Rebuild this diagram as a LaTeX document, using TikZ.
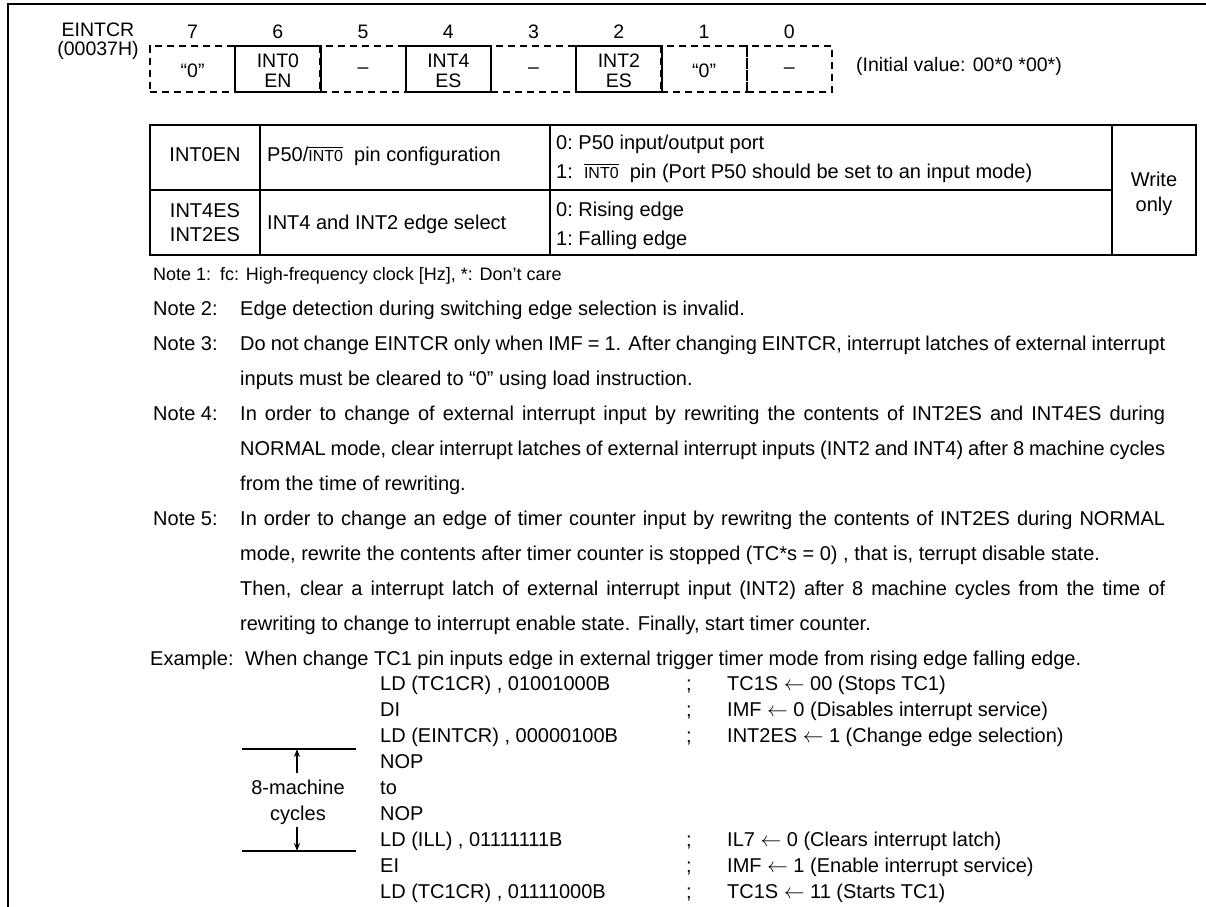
\documentclass[tikz,border=0pt]{standalone}
\usepackage{fontspec}
\setmainfont{Liberation Sans}
\usetikzlibrary{arrows.meta}
\newcommand\ovline[1]{\vbox{\hrule height 1.2pt\kern1.4pt\hbox{#1}}}
\newcommand\jline[1]{\makebox[925pt][s]{#1}}
\newcommand\intsmall{\fontsize{16}{16}\selectfont INT0}
\newcommand\larr{$\leftarrow$}
\begin{document}
\begin{tikzpicture}[x=1pt,y=-1pt,
  every node/.style={font=\fontsize{20}{20}\selectfont, inner sep=0pt},
  regfont/.style={font=\fontsize{19.5}{20}\selectfont},
  notesmall/.style={font=\fontsize{18}{20}\selectfont},
  txt/.style={anchor=base west},
  ctxt/.style={anchor=base},
  cellbase/.style={minimum width=85.25pt, minimum height=46pt, align=center, line width=2pt},
  dcell/.style={cellbase, draw, dash pattern=on 7pt off 5pt},
  scell/.style={cellbase, draw, solid},
  frame/.style={line width=2pt},
  tbl/.style={line width=2pt},
  brk/.style={line width=1.5pt},
  arr/.style={line width=1.3pt, -{Stealth[length=8pt,width=6pt]}}]
\useasboundingbox (0,0) rectangle (1206,906);
% frame
\draw[frame] (8,910) -- (8,4) -- (1210,4);
% register
\node[ctxt, regfont] (regname) at (98,36) {EINTCR};
\node[ctxt, regfont] (regaddr) at (98,55) {(00037H)};
\foreach \b/\x in {7/192.6,6/277.9,5/363.1,4/448.4,3/533.6,2/618.9,1/704.1,0/789.4}{
  \node[regfont] (num\b) at (\x,32) {\b};
}
\node[dcell] (c7) at (192.6,69) {};
\node[dcell] (c5) at (363.1,69) {};
\node[dcell] (c3) at (533.6,69) {};
\node[dcell] (c1) at (704.1,69) {};
\node[dcell] (c0) at (789.4,69) {};
\node[scell] (c6) at (277.9,69) {};
\node[scell] (c4) at (448.4,69) {};
\node[scell] (c2) at (618.9,69) {};
\node[regfont] (t7) at (192.6,71) {“0”};
\node[regfont, align=center] (t6) at (277.9,71) {INT0\\EN};
\node[regfont] (t5) at (363.1,71) {–};
\node[regfont, align=center] (t4) at (448.4,71) {INT4\\ES};
\node[regfont] (t3) at (533.6,71) {–};
\node[regfont, align=center] (t2) at (618.9,71) {INT2\\ES};
\node[regfont] (t1) at (704.1,71) {“0”};
\node[regfont] (t0) at (789.4,71) {–};
\node[txt, regfont] (init) at (856,71) {(Initial value: 00*0 *00*)};
% table
\draw[tbl] (150,125) rectangle (1196,255);
\draw[tbl] (260,125) -- (260,255);
\draw[tbl] (550,125) -- (550,255);
\draw[tbl] (1112,125) -- (1112,255);
\draw[tbl] (150,190) -- (1112,190);
\node[ctxt] (r1a) at (205,161) {INT0EN};
\node[txt] (r1b) at (267,161) {P50/\ovline{\intsmall}\ \ pin configuration};
\node[txt] (r1c) at (556,149) {0:\ P50 input/output port};
\node[txt] (r1d) at (556,178) {1:\ \ \ovline{\intsmall}\ \ pin (Port P50 should be set to an input mode)};
\node[ctxt] (r2a) at (205,217) {INT4ES};
\node[ctxt] (r2b) at (205,241) {INT2ES};
\node[txt] (r2c) at (267,229) {INT4 and INT2 edge select};
\node[txt] (r2d) at (556,216) {0:\ Rising edge};
\node[txt] (r2e) at (556,245) {1:\ Falling edge};
\node[ctxt] (w1) at (1154,186) {Write};
\node[ctxt] (w2) at (1154,211) {only};
% notes
\node[txt, notesmall] (n1) at (153,280) {Note 1:};
\node[txt, notesmall] (n1t) at (220,280) {fc: High-frequency clock [Hz], *: Don’t care};
\node[txt] (n2) at (153,315) {Note 2:};
\node[txt] (n2t) at (240,315) {Edge detection during switching edge selection is invalid.};
\node[txt] (n3) at (153,350) {Note 3:};
\node[txt] (n3a) at (240,350) {\jline{Do not change EINTCR only when IMF = 1. After changing EINTCR, interrupt latches of external interrupt}};
\node[txt] (n3b) at (240,385) {inputs must be cleared to “0” using load instruction.};
\node[txt] (n4) at (153,420) {Note 4:};
\node[txt] (n4a) at (240,420) {\jline{In order to change of external interrupt input by rewriting the contents of INT2ES and INT4ES during}};
\node[txt] (n4b) at (240,455) {\jline{NORMAL mode, clear interrupt latches of external interrupt inputs (INT2 and INT4) after 8 machine cycles}};
\node[txt] (n4c) at (240,490) {from the time of rewriting.};
\node[txt] (n5) at (153,525) {Note 5:};
\node[txt] (n5a) at (240,525) {\jline{In order to change an edge of timer counter input by rewritng the contents of INT2ES during NORMAL}};
\node[txt] (n5b) at (240,560) {mode, rewrite the contents after timer counter is stopped (TC*s = 0) , that is, terrupt disable state.};
\node[txt] (n5c) at (240,595) {\jline{Then, clear a interrupt latch of external interrupt input (INT2) after 8 machine cycles from the time of}};
\node[txt] (n5d) at (240,630) {rewriting to change to interrupt enable state. Finally, start timer counter.};
\node[txt] (ex) at (150,665) {Example:};
\node[txt] (ext) at (245,665) {When change TC1 pin inputs edge in external trigger timer mode from rising edge falling edge.};
% code
\node[txt] (l1) at (380,690) {LD (TC1CR) , 01001000B};
\node[txt] (l2) at (380,716) {DI};
\node[txt] (l3) at (380,742) {LD (EINTCR) , 00000100B};
\node[txt] (l4) at (380,768) {NOP};
\node[txt] (l5) at (380,794) {to};
\node[txt] (l6) at (380,820) {NOP};
\node[txt] (l7) at (380,846) {LD (ILL) , 01111111B};
\node[txt] (l8) at (380,872) {EI};
\node[txt] (l9) at (380,898) {LD (TC1CR) , 01111000B};
\foreach \y/\n in {690/1,716/2,742/3,846/7,872/8,898/9}{
  \node[txt] (s\n) at (686,\y) {;};
}
\node[txt] (m1) at (727,690) {TC1S \larr\ 00 (Stops TC1)};
\node[txt] (m2) at (727,716) {IMF \larr\ 0 (Disables interrupt service)};
\node[txt] (m3) at (727,742) {INT2ES \larr\ 1 (Change edge selection)};
\node[txt] (m7) at (727,846) {IL7 \larr\ 0 (Clears interrupt latch)};
\node[txt] (m8) at (727,872) {IMF \larr\ 1 (Enable interrupt service)};
\node[txt] (m9) at (727,898) {TC1S \larr\ 11 (Starts TC1)};
% bracket
\coordinate (bt1) at (242,749); \coordinate (bt2) at (356,749);
\coordinate (bb1) at (242,851); \coordinate (bb2) at (356,851);
\draw[brk] (bt1) -- (bt2);
\draw[brk] (bb1) -- (bb2);
\node[ctxt] (mc1) at (298,794) {8-machine};
\node[ctxt] (mc2) at (298,820) {cycles};
\coordinate (au) at (297,773); \coordinate (aut) at (297,749);
\coordinate (ad) at (297,827); \coordinate (adt) at (297,851);
\draw[arr] (au) -- (aut);
\draw[arr] (ad) -- (adt);
\end{tikzpicture}
\end{document}
